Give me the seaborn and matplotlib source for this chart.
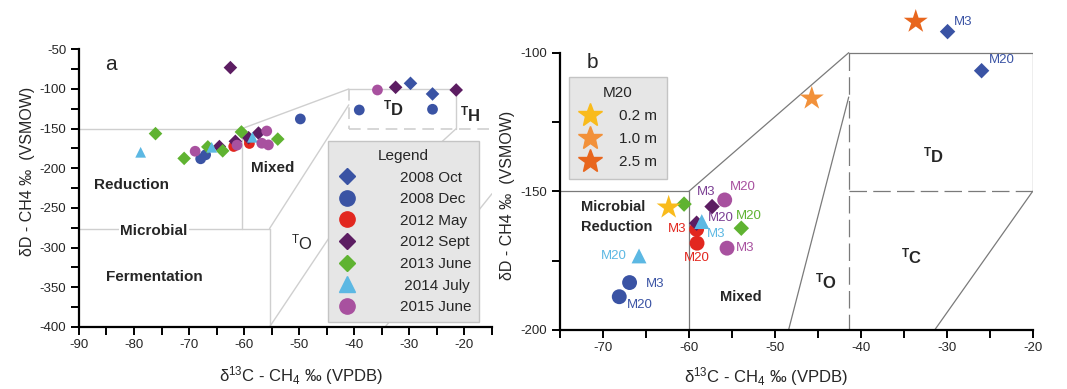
import matplotlib.pyplot as plt
import seaborn as sns
import pandas as pd
from matplotlib.lines import Line2D
from matplotlib.ticker import MultipleLocator

sns.set_style("ticks")
plt.rcParams["font.family"] = ["Liberation Sans", "DejaVu Sans"]
plt.rcParams["axes.unicode_minus"] = False
plt.rcParams["mathtext.fontset"] = "custom"
plt.rcParams["mathtext.rm"] = "Liberation Sans"
plt.rcParams["mathtext.bf"] = "Liberation Sans:bold"
plt.rcParams["mathtext.it"] = "Liberation Sans:italic"

# ==========================================
# DONNEES - panneau a (toutes campagnes)
# ==========================================
campagnes = ["2008 Oct", "2008 Dec", "2012 May", "2012 Sept", "2013 June", "2014 July", "2015 June"]
couleurs = {"2008 Oct": "#3a53a4", "2008 Dec": "#3a53a4", "2012 May": "#e2271f",
            "2012 Sept": "#5c1d62", "2013 June": "#5fb331", "2014 July": "#5cb8e3",
            "2015 June": "#a8519f"}
marqueurs = {"2008 Oct": "D", "2008 Dec": "o", "2012 May": "o", "2012 Sept": "D",
             "2013 June": "D", "2014 July": "^", "2015 June": "o"}

oct08_c = [-29.8, -25.8]
oct08_d = [-92.9, -106.3]
dec08_c = [-39.1, -25.8, -49.8, -67.9, -67.0]
dec08_d = [-126.5, -125.6, -137.8, -188.0, -183.0]
may12_c = [-61.9, -59.1, -59.05]
may12_d = [-172.5, -163.7, -168.7]
sep12_c = [-62.5, -64.5, -61.6, -59.2, -57.4, -32.5, -21.5]
sep12_d = [-73.1, -172.6, -166.0, -161.5, -155.6, -97.9, -101.3]
jun13_c = [-76.1, -70.9, -66.6, -63.9, -60.5, -53.9]
jun13_d = [-156.3, -187.5, -173.0, -178.0, -154.2, -163.2]
jul14_c = [-78.8, -65.9, -58.5]
jul14_d = [-179.8, -173.5, -160.9]
jun15_c = [-68.9, -61.3, -55.9, -56.8, -55.6, -35.8]
jun15_d = [-178.5, -170.8, -153.0, -168.4, -170.5, -101.3]

series_a = {"2008 Oct": (oct08_c, oct08_d), "2008 Dec": (dec08_c, dec08_d),
            "2012 May": (may12_c, may12_d), "2012 Sept": (sep12_c, sep12_d),
            "2013 June": (jun13_c, jun13_d), "2014 July": (jul14_c, jul14_d),
            "2015 June": (jun15_c, jun15_d)}

# ==========================================
# DONNEES - panneau b (M3 / M20)
# ==========================================
b_campagne = ["2008 Oct", "2008 Oct", "2008 Dec", "2008 Dec", "2012 May", "2012 May",
              "2012 Sept", "2012 Sept", "2013 June", "2013 June", "2014 July", "2014 July",
              "2015 June", "2015 June"]
b_c = [-29.9, -25.94, -66.9, -68.1, -59.1, -59.05, -57.3, -59.1, -60.56, -53.9, -58.5, -65.8, -55.83, -55.56]
b_d = [-92.4, -106.5, -182.9, -188.0, -163.7, -168.7, -155.5, -161.5, -154.6, -163.3, -160.9, -173.3, -153.1, -170.5]
b_site = ["M3", "M20", "M3", "M20", "M3", "M20", "M3", "M20", "", "M20", "M3", "M20", "M20", "M3"]

profondeurs = ["0.2 m", "1.0 m", "2.5 m"]
etoile_c = [-62.35, -45.7, -33.6]
etoile_d = [-155.8, -116.5, -88.8]
couleurs_etoile = {"0.2 m": "#f9bb1c", "1.0 m": "#f2913a", "2.5 m": "#e8661d"}

df_a = pd.concat([pd.DataFrame({"d13C": c, "dD": d, "campagne": k}) for k, (c, d) in series_a.items()])
df_b = pd.DataFrame({"d13C": b_c, "dD": b_d, "campagne": b_campagne, "site": b_site})
df_et = pd.DataFrame({"d13C": etoile_c, "dD": etoile_d, "prof": profondeurs})

fig = plt.figure(figsize=(10.67, 3.89), dpi=100)
ax1 = fig.add_axes([0.0740, 0.1594, 0.3871, 0.7139])
ax2 = fig.add_axes([0.5248, 0.1517, 0.4430, 0.8483])

gris_a = "#cfcfcf"
gris_b = "#7a7a7a"
gras = dict(fontweight="bold", family=["Liberation Sans Narrow", "Liberation Sans", "DejaVu Sans"])

# ==========================================
# PANNEAU A
# ==========================================
traits_a = [((-90, -60.4), (-150, -150)), ((-60.4, -60.4), (-150, -276)),
            ((-90, -55.4), (-276, -276)), ((-55.4, -55.4), (-276, -400)),
            ((-60.4, -41), (-150, -100)), ((-41, -21.5), (-100, -100)),
            ((-21.5, -21.5), (-100, -150)), ((-55.4, -41), (-276, -120)),
            ((-55.4, -40), (-400, -240)), ((-21.5, -27), (-150, -185)),
            ((-34.4, -15), (-400, -232))]
tirets_a = [((-41, -41), (-100, -150)), ((-41, -15), (-150, -150))]
for xs, ys in traits_a:
    ax1.plot(xs, ys, color=gris_a, lw=1, zorder=1)
for xs, ys in tirets_a:
    ax1.plot(xs, ys, color=gris_a, lw=1.2, ls=(0, (7, 4)), zorder=1)

tailles_a = {k: (60 if marqueurs[k] == "o" else 48) for k in campagnes}
tailles_a["2014 July"] = 60
sns.scatterplot(data=df_a, x="d13C", y="dD", hue="campagne", style="campagne",
                size="campagne", sizes=tailles_a, palette=couleurs, markers=marqueurs,
                linewidth=0, legend=False, ax=ax1, zorder=3, clip_on=False)

ax1.text(-84.2, -69.8, "a", fontsize=15, ha="center", va="center")
ax1.text(-80.5, -221, "Reduction", fontsize=11, ha="center", va="center", **gras)
ax1.text(-54.8, -199, "Mixed", fontsize=11, ha="center", va="center", **gras)
ax1.text(-76.4, -278.5, "Microbial", fontsize=11, ha="center", va="center",
         bbox=dict(facecolor="white", edgecolor="none", pad=1), **gras)
ax1.text(-76.3, -337, "Fermentation", fontsize=11, ha="center", va="center", **gras)
ax1.text(-49.6, -293, r"$^{\mathrm{T}}\mathrm{O}$", fontsize=12, ha="center", va="center")
ax1.text(-32.8, -124, r"$^{\mathbf{T}}\mathbf{D}$", fontsize=12, ha="center", va="center")
ax1.text(-19, -132.7, r"$^{\mathbf{T}}\mathbf{H}$", fontsize=12, ha="center", va="center")

poignees_a = [Line2D([], [], ls="", marker=marqueurs[k], color=couleurs[k],
                     markersize=(11 if marqueurs[k] == "o" else 8.5 if marqueurs[k] == "D" else 12))
              for k in campagnes]
etiquettes_a = [(" " + k if k == "2014 July" else k) for k in campagnes]
leg = ax1.legend(poignees_a, etiquettes_a, title="Legend", loc="lower right",
                 bbox_to_anchor=(0.9685, 0.018), borderaxespad=0, fontsize=11,
                 title_fontsize=11, frameon=True, fancybox=False, handlelength=1.5,
                 handletextpad=2.7, labelspacing=0.5, borderpad=0.5)
leg.get_frame().set_facecolor("#e6e6e6")
leg.get_frame().set_edgecolor("#c4c4c4")
leg.get_frame().set_alpha(1)
leg.set_zorder(5)

ax1.set_xlim(-90, -15)
ax1.set_ylim(-400, -50)
ax1.xaxis.set_major_locator(MultipleLocator(10))
ax1.xaxis.set_minor_locator(MultipleLocator(5))
ax1.yaxis.set_major_locator(MultipleLocator(50))
ax1.yaxis.set_minor_locator(MultipleLocator(25))
ax1.set_xticks([-90, -80, -70, -60, -50, -40, -30, -20])
ax1.set_xlabel(r"δ$^{13}$C - CH$_4$ ‰ (VPDB)", fontsize=12)
ax1.set_ylabel("δD - CH4 ‰  (VSMOW)", fontsize=11.5)
ax1.xaxis.set_label_coords(0.5375, -0.175)
ax1.xaxis.label.set_va("center")
ax1.yaxis.set_label_coords(-0.125, 0.561)
ax1.yaxis.label.set_va("center")

# ==========================================
# PANNEAU B
# ==========================================
traits_b = [((-75, -60), (-150, -150)), ((-60, -60), (-150, -200)),
            ((-60, -41.4), (-150, -100)), ((-41.4, -20), (-100, -100)),
            ((-20, -20), (-100, -150)), ((-20, -31.4), (-150, -200)),
            ((-41.4, -48.4), (-116, -200))]
tirets_b = [((-41.4, -41.4), (-100, -200)), ((-41.4, -20), (-150, -150))]
for xs, ys in traits_b:
    ax2.plot(xs, ys, color=gris_b, lw=0.9, zorder=1)
for xs, ys in tirets_b:
    ax2.plot(xs, ys, color=gris_b, lw=0.9, ls=(0, (14, 5)), zorder=1)

tailles_b = {k: (115 if marqueurs[k] == "o" else 62) for k in campagnes}
tailles_b["2014 July"] = 115
sns.scatterplot(data=df_b, x="d13C", y="dD", hue="campagne", style="campagne",
                size="campagne", sizes=tailles_b, palette=couleurs, markers=marqueurs,
                linewidth=0, legend=False, ax=ax2, zorder=3)
sns.scatterplot(data=df_et, x="d13C", y="dD", hue="prof", palette=couleurs_etoile,
                marker="*", s=330, linewidth=0, legend=False, ax=ax2, zorder=4)

# decalages des etiquettes M3 / M20 (pixels)
decalages = [(6, 10, "left"), (7, 11, "left"), (16, -1, "left"), (8, -8, "left"),
             (-10, 0, "right"), (0, -15, "center"), (-6, 15, "center"), (11, 5, "left"),
             (0, 0, "left"), (8, 12, "center"), (5, -12, "left"), (-12, 0, "right"),
             (18, 13, "center"), (9, 0, "left")]
couleurs_texte = {"2012 Sept": "#7b3f93"}
for (x, y, camp, site), (dx, dy, ha) in zip(df_b.itertuples(index=False), decalages):
    if site:
        ax2.annotate(site, (x, y), xytext=(dx, dy), textcoords="offset pixels",
                     ha=ha, va="center", fontsize=9.5,
                     color=couleurs_texte.get(camp, couleurs[camp]))

ax2.text(-71.2, -103.7, "b", fontsize=15, ha="center", va="center")
ax2.text(-72.5, -155.8, "Microbial", fontsize=10.5, ha="left", va="center", **gras)
ax2.text(-72.5, -163.0, "Reduction", fontsize=10.5, ha="left", va="center", **gras)
ax2.text(-53.9, -188, "Mixed", fontsize=10.5, ha="center", va="center", **gras)
ax2.text(-44, -182.6, r"$^{\mathbf{T}}\mathbf{O}$", fontsize=12, ha="center", va="center")
ax2.text(-34.1, -173.6, r"$^{\mathbf{T}}\mathbf{C}$", fontsize=12, ha="center", va="center")
ax2.text(-31.5, -136.9, r"$^{\mathbf{T}}\mathbf{D}$", fontsize=12, ha="center", va="center")

poignees_b = [Line2D([], [], ls="", marker="*", color=couleurs_etoile[p], markersize=18)
              for p in profondeurs]
leg2 = ax2.legend(poignees_b, profondeurs, title="M20", loc="upper left",
                  bbox_to_anchor=(0.019, 0.7676), borderaxespad=0, fontsize=11,
                  title_fontsize=11, frameon=True, fancybox=False, handlelength=1.6,
                  handletextpad=1.1, labelspacing=0.6, borderpad=0.6)
leg2.get_frame().set_facecolor("#e6e6e6")
leg2.get_frame().set_edgecolor("#c4c4c4")
leg2.get_frame().set_alpha(1)

ax2.set_xlim(-75, -20)
ax2.set_ylim(-200, -81)
ax2.spines["left"].set_bounds(-200, -100)
ax2.set_xticks([-70, -60, -50, -40, -30, -20])
ax2.xaxis.set_minor_locator(MultipleLocator(5))
ax2.set_yticks([-200, -150, -100])
ax2.set_yticks([-175, -125], minor=True)
ax2.set_xlabel(r"δ$^{13}$C - CH$_4$ ‰ (VPDB)", fontsize=12)
ax2.set_ylabel("δD - CH4 ‰  (VSMOW)", fontsize=11.5)
ax2.xaxis.set_label_coords(0.436, -0.142)
ax2.xaxis.label.set_va("center")
ax2.yaxis.set_label_coords(-0.112, 0.4076)
ax2.yaxis.label.set_va("center")

for ax in (ax1, ax2):
    sns.despine(ax=ax)
    for s in ("left", "bottom"):
        ax.spines[s].set_linewidth(1.6)
        ax.spines[s].set_color("black")
    ax.tick_params(which="both", direction="out", length=6, width=1.4, color="black",
                   labelsize=9.5, pad=3)
    ax.set_facecolor("white")
    ax.patch.set_alpha(0)

plt.savefig("out.png", dpi=100)
plt.close()
